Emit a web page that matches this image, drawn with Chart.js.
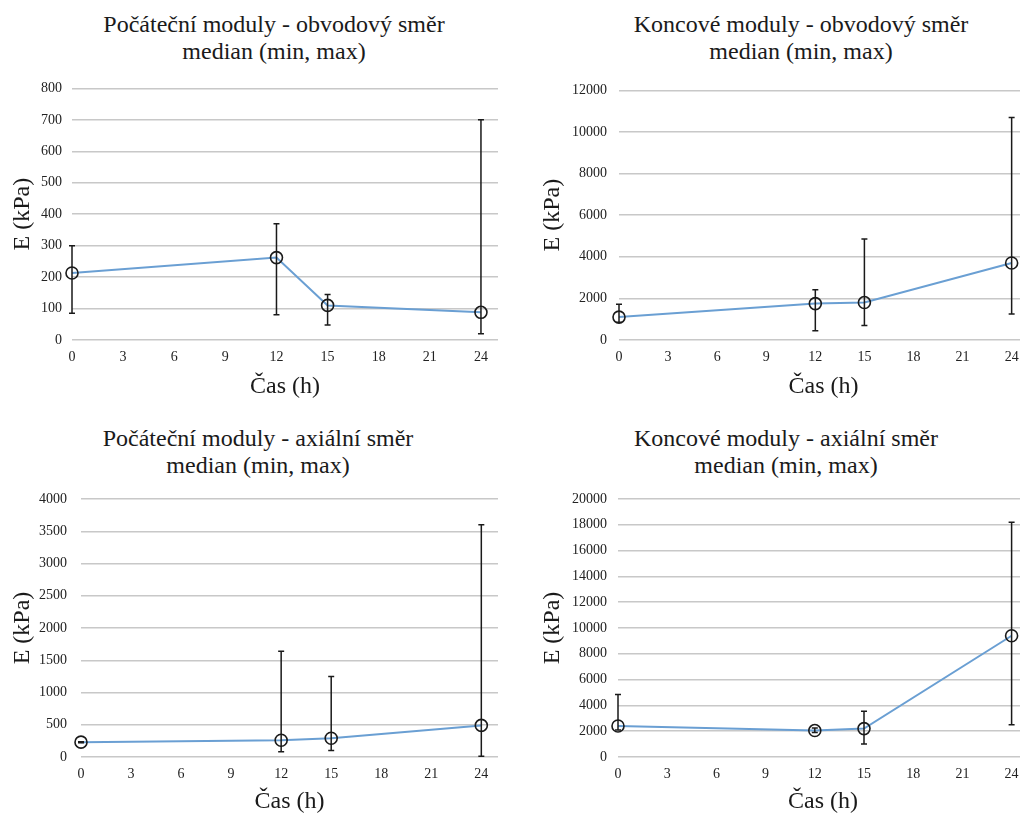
<!DOCTYPE html>
<html><head><meta charset="utf-8">
<script src="https://cdn.jsdelivr.net/npm/chart.js@4.4.1/dist/chart.umd.min.js"></script>
<style>
html,body{margin:0;padding:0;background:#fff;width:1020px;height:815px;overflow:hidden;position:relative;font-family:'Liberation Serif','Times New Roman',serif;}
.box{position:absolute;}
.title{position:absolute;transform:translateX(-50%);white-space:nowrap;text-align:center;font-size:24px;line-height:27px;color:#1a1a1a;}
</style></head><body>
<div class="title" style="left:274px;top:11px">Počáteční moduly - obvodový směr<br>median (min, max)</div>
<div class="title" style="left:801px;top:11px">Koncové moduly - obvodový směr<br>median (min, max)</div>
<div class="title" style="left:258px;top:425px">Počáteční moduly - axiální směr<br>median (min, max)</div>
<div class="title" style="left:786px;top:425px">Koncové moduly - axiální směr<br>median (min, max)</div>
<div class="box" style="left:0;top:70px"><canvas id="c1" width="510" height="330"></canvas></div>
<div class="box" style="left:510px;top:70px"><canvas id="c2" width="530" height="330"></canvas></div>
<div class="box" style="left:0;top:470px"><canvas id="c3" width="510" height="345"></canvas></div>
<div class="box" style="left:510px;top:470px"><canvas id="c4" width="530" height="345"></canvas></div>
<script>
// ---- data ----
const hours = [0, 12, 15, 24];
const xTicks = [0, 3, 6, 9, 12, 15, 18, 21, 24];

// Počáteční moduly - obvodový směr
const p1Median = [213, 262, 110, 88];
const p1Min    = [85, 80, 48, 20];
const p1Max    = [300, 370, 145, 700];
const p1YTicks = [0, 100, 200, 300, 400, 500, 600, 700, 800];

// Koncové moduly - obvodový směr
const p2Median = [1100, 1750, 1800, 3700];
const p2Min    = [850, 450, 700, 1250];
const p2Max    = [1720, 2420, 4850, 10700];
const p2YTicks = [0, 2000, 4000, 6000, 8000, 10000, 12000];

// Počáteční moduly - axiální směr
const p3Median = [230, 260, 290, 490];
const p3Min    = [222, 80, 100, 10];
const p3Max    = [238, 1640, 1250, 3600];
const p3YTicks = [0, 500, 1000, 1500, 2000, 2500, 3000, 3500, 4000];

// Koncové moduly - axiální směr
const p4Median = [2400, 2050, 2200, 9400];
const p4Min    = [2100, 1900, 1000, 2500];
const p4Max    = [4850, 2250, 3550, 18200];
const p4YTicks = [0, 2000, 4000, 6000, 8000, 10000, 12000, 14000, 16000, 18000, 20000];

const FONT = "'Liberation Serif', 'Times New Roman', serif";

const errorBars = {
  id: 'errorBars',
  afterDatasetsDraw(chart, args, opts) {
    const {ctx, scales: {x, y}} = chart;
    const pts = chart.data.datasets[0].data;
    ctx.save();
    ctx.strokeStyle = opts.color;
    ctx.lineWidth = opts.width;
    pts.forEach(p => {
      const px = x.getPixelForValue(p.x);
      const t = y.getPixelForValue(p.yMax);
      const b = y.getPixelForValue(p.yMin);
      ctx.beginPath();
      ctx.moveTo(px, t); ctx.lineTo(px, b);
      ctx.moveTo(px - opts.cap, t); ctx.lineTo(px + opts.cap, t);
      ctx.moveTo(px - opts.cap, b); ctx.lineTo(px + opts.cap, b);
      ctx.stroke();
    });
    ctx.restore();
  }
};

function makeChart(id, med, mn, mx, yTicks, L) {
  const data = hours.map((h, i) => ({x: h, y: med[i], yMin: mn[i], yMax: mx[i]}));
  new Chart(document.getElementById(id), {
    type: 'line',
    data: { datasets: [{
      data,
      clip: false,
      borderColor: '#6a9fd3',
      borderWidth: 2,
      tension: 0,
      pointRadius: 6,
      pointBorderColor: '#1a1a1a',
      pointBorderWidth: 1.6,
      pointBackgroundColor: 'rgba(0,0,0,0)'
    }]},
    options: {
      responsive: false,
      devicePixelRatio: 1,
      animation: false,
      layout: { padding: { top: L.pt, right: 12, left: 0, bottom: 0 } },
      plugins: {
        legend: { display: false },
        tooltip: { enabled: false },
        errorBars: { color: '#1a1a1a', width: 1.5, cap: 3 }
      },
      scales: {
        x: {
          type: 'linear', min: 0, max: 25,
          afterBuildTicks: s => { s.ticks = xTicks.map(v => ({value: v})); },
          afterFit: s => { s.height = L.xh; },
          grid: { display: false, drawTicks: false },
          border: { display: false },
          ticks: { padding: 9, color: '#222', font: { family: FONT, size: 14 }, maxRotation: 0, autoSkip: false,
                   callback: v => String(v) },
          title: { display: true, text: 'Čas (h)', color: '#1a1a1a',
                   font: { family: FONT, size: 24, lineHeight: 1.1 }, padding: { top: 0, bottom: 0 } }
        },
        y: {
          min: yTicks[0], max: yTicks[yTicks.length - 1],
          afterBuildTicks: s => { s.ticks = yTicks.map(v => ({value: v})); },
          afterFit: s => { s.width = L.yw; },
          grid: { color: '#c8c8c8', lineWidth: 1.5, drawTicks: false },
          border: { display: false },
          ticks: { padding: L.tp, color: '#222', font: { family: FONT, size: 14 }, callback: v => String(v) },
          title: { display: true, text: 'E (kPa)', color: '#1a1a1a',
                   font: { family: FONT, size: 24, lineHeight: 1.2 }, padding: { top: L.ytp, bottom: 0 } }
        }
      }
    },
    plugins: [errorBars]
  });
}

makeChart('c1', p1Median, p1Min, p1Max, p1YTicks, {pt: 12, xh: 60, yw: 72, tp: 10, ytp: 8});
makeChart('c2', p2Median, p2Min, p2Max, p2YTicks, {pt: 12, xh: 60, yw: 109, tp: 12, ytp: 28});
makeChart('c3', p3Median, p3Min, p3Max, p3YTicks, {pt: 29, xh: 58, yw: 81, tp: 14, ytp: 8});
makeChart('c4', p4Median, p4Min, p4Max, p4YTicks, {pt: 29, xh: 58, yw: 108, tp: 11, ytp: 28});
</script>
</body></html>
